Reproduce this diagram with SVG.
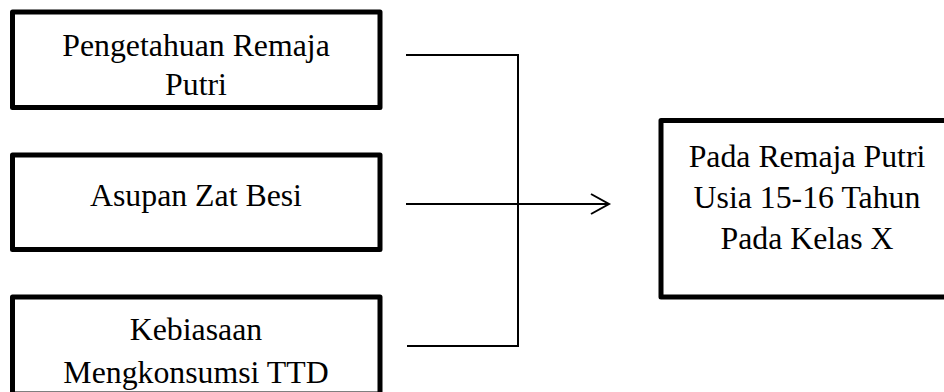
<svg xmlns="http://www.w3.org/2000/svg" width="944" height="392" viewBox="0 0 944 392">
  <style>
    .box { fill: #ffffff; stroke: #000000; stroke-width: 5; stroke-linejoin: round; }
    .lbl { font-family: "Liberation Serif", "Times New Roman", serif; font-size: 31.8px; fill: #000000; text-anchor: middle; }
    .conn { fill: none; stroke: #000000; stroke-width: 2; }
  </style>
  <defs>
    <marker id="arrow" markerWidth="22" markerHeight="24" refX="19" refY="11" orient="auto" markerUnits="userSpaceOnUse">
      <path d="M1,1 L19,11 L1,21" fill="none" stroke="#000000" stroke-width="2"/>
    </marker>
  </defs>
  <rect width="944" height="392" fill="#ffffff"/>
  <g id="node-pengetahuan">
    <rect class="box" x="12.5" y="12" width="367.5" height="95.5"/>
    <text class="lbl" x="196" y="56">Pengetahuan Remaja</text>
    <text class="lbl" x="196" y="95">Putri</text>
  </g>
  <g id="node-asupan">
    <rect class="box" x="12.5" y="155" width="367.5" height="94.5"/>
    <text class="lbl" x="196" y="206">Asupan Zat Besi</text>
  </g>
  <g id="node-kebiasaan">
    <rect class="box" x="12.5" y="297" width="367.5" height="97"/>
    <text class="lbl" x="196" y="340">Kebiasaan</text>
    <text class="lbl" x="196" y="383">Mengkonsumsi TTD</text>
  </g>
  <g id="node-remaja">
    <rect class="box" x="661" y="120.5" width="300" height="176.5"/>
    <text class="lbl" x="807" y="167">Pada Remaja Putri</text>
    <text class="lbl" x="807" y="208">Usia 15-16 Tahun</text>
    <text class="lbl" x="807" y="249">Pada Kelas X</text>
  </g>
  <g id="connectors">
    <polyline class="conn" points="406,55 518,55 518,346 407,346"/>
    <line class="conn" x1="406" y1="204" x2="609" y2="204" marker-end="url(#arrow)"/>
  </g>
</svg>
